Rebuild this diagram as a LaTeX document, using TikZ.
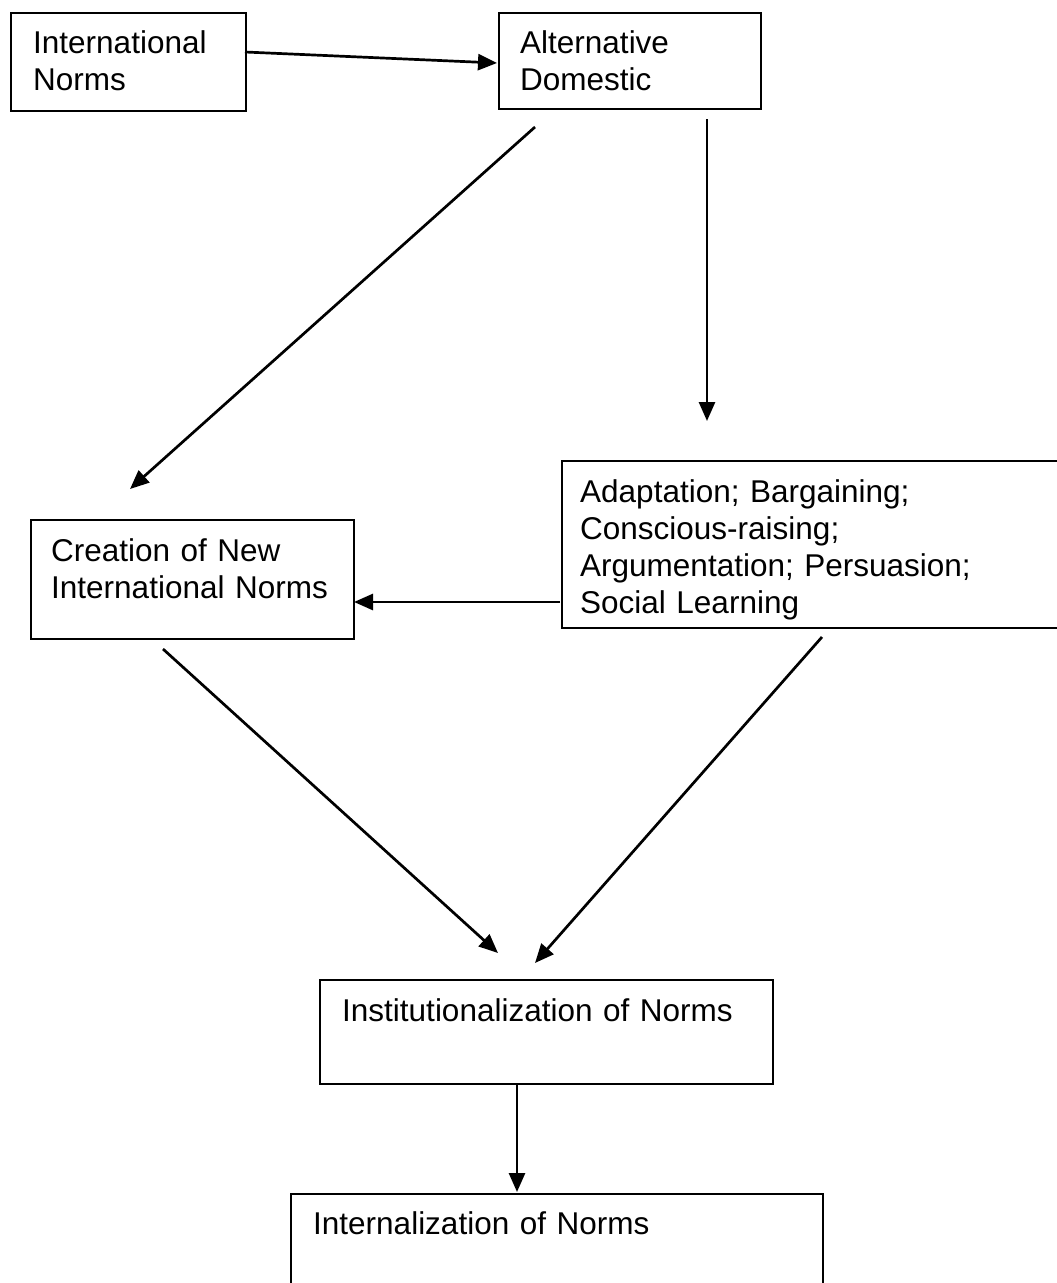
\documentclass[tikz,border=0pt]{standalone}
\usepackage{fontspec}
\setmainfont{Liberation Sans}
\usetikzlibrary{arrows.meta}
\begin{document}
\begin{tikzpicture}[x=1pt,y=-1pt,
  box/.style={draw, line width=2.2pt, rectangle, inner sep=0pt, anchor=north west},
  lbl/.style={anchor=base west, inner sep=0pt, align=left, text width=#1,
    font=\fontsize{31.5}{37}\selectfont},
  conn/.style={line width=2.7pt, -{Triangle[length=19pt,width=16pt]}}]
\clip (0,0) rectangle (1057,1283);
\fill[white] (0,0) rectangle (1057,1283);
% boxes
\node[box, minimum width=235pt, minimum height=98pt] (A) at (10,12) {};
\node[box, minimum width=262pt, minimum height=96pt] (B) at (498,12) {};
\node[box, minimum width=323pt, minimum height=119pt] (C) at (30,519) {};
\node[box, minimum width=540pt, minimum height=167pt] (D) at (561,460) {};
\node[box, minimum width=453pt, minimum height=104pt] (E) at (319,979) {};
\node[box, minimum width=532pt, minimum height=150pt] (F) at (290,1193) {};
% labels
\node[lbl=215pt] (At) at (33,53) {International\\Norms};
\node[lbl=235pt] (Bt) at (520,53) {Alternative\\Domestic};
\node[lbl=300pt] (Ct) at (51,561) {Creation of New\\International Norms};
\node[lbl=470pt] (Dt) at (580,502) {Adaptation; Bargaining;\\Conscious-raising;\\Argumentation; Persuasion;\\Social Learning};
\node[lbl=430pt] (Et) at (342,1021) {Institutionalization of Norms};
\node[lbl=500pt] (Ft) at (313,1234) {Internalization of Norms};
% connector ends
\coordinate (a1) at (245,52);  \coordinate (b1) at (497,63);
\coordinate (b2) at (535,127); \coordinate (c1) at (130,489);
\coordinate (b3) at (707,119); \coordinate (d1) at (707,421);
\coordinate (d2) at (560,602); \coordinate (c2) at (354,602);
\coordinate (c3) at (163,649); \coordinate (e1) at (498,953);
\coordinate (d3) at (822,637); \coordinate (e2) at (535,963);
\coordinate (e3) at (517,1083); \coordinate (f1) at (517,1192);
% connectors
\draw[conn] (a1) -- (b1);
\draw[conn] (b2) -- (c1);
\draw[conn] (b3) -- (d1);
\draw[conn] (d2) -- (c2);
\draw[conn] (c3) -- (e1);
\draw[conn] (d3) -- (e2);
\draw[conn] (e3) -- (f1);
\end{tikzpicture}
\end{document}
